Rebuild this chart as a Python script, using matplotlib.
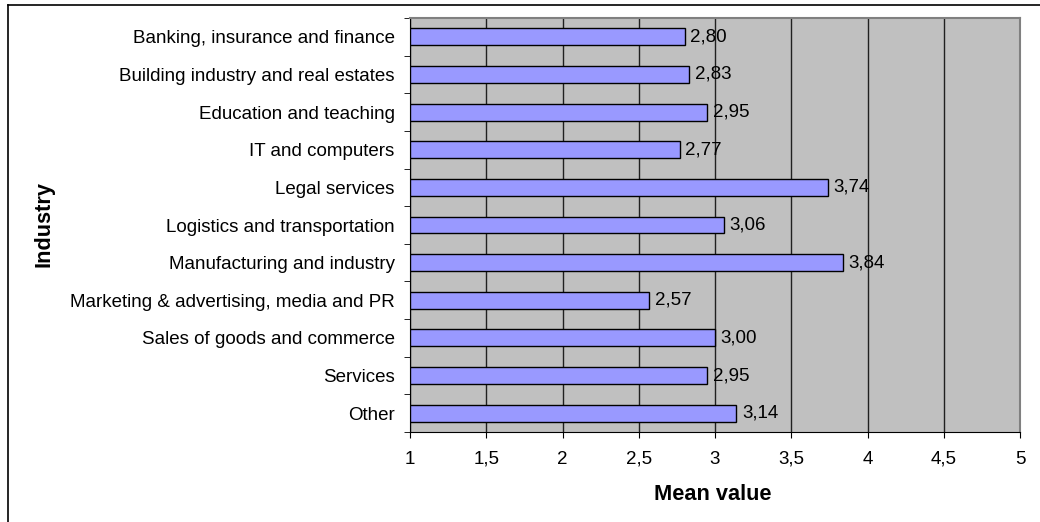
import matplotlib.pyplot as plt
import numpy as np

plt.rcParams['font.family'] = ['Liberation Sans', 'DejaVu Sans']

industries = [
    'Banking, insurance and finance',
    'Building industry and real estates',
    'Education and teaching',
    'IT and computers',
    'Legal services',
    'Logistics and transportation',
    'Manufacturing and industry',
    'Marketing & advertising, media and PR',
    'Sales of goods and commerce',
    'Services',
    'Other',
]
mean_values = [2.80, 2.83, 2.95, 2.77, 3.74, 3.06, 3.84, 2.57, 3.00, 2.95, 3.14]
x_ticks = [1, 1.5, 2, 2.5, 3, 3.5, 4, 4.5, 5]

W, H = 1040, 522
fig = plt.figure(figsize=(W / 100, H / 100), dpi=100)
ax = fig.add_axes([410 / W, 1 - 432 / H, (1020 - 410) / W, (432 - 18) / H])

# frame lines on the top and left edge of the chart
fig.add_artist(plt.Line2D([8 / W, 8 / W], [0, 1 - 5 / H], transform=fig.transFigure,
                          color='black', linewidth=1.2))
fig.add_artist(plt.Line2D([8 / W, 1], [1 - 5 / H, 1 - 5 / H], transform=fig.transFigure,
                          color='black', linewidth=1.2))

ax.set_facecolor('#C0C0C0')
y = np.arange(len(industries))
ax.barh(y, [v - 1 for v in mean_values], left=1, height=0.45,
        color='#9999FF', edgecolor='black', linewidth=1.0, zorder=3)

for yi, v in zip(y, mean_values):
    ax.annotate(f'{v:.2f}'.replace('.', ','), (v, yi), xytext=(4, 0),
                textcoords='offset points', va='center', ha='left',
                fontsize=13.5, zorder=4)

ax.set_xlim(1, 5)
ax.set_ylim(len(industries) - 0.5, -0.5)
ax.set_xticks(x_ticks)
ax.set_xticklabels([f'{t:g}'.replace('.', ',') for t in x_ticks], fontsize=13.5)
ax.set_yticks(y)
ax.set_yticklabels(industries, fontsize=13.5)
ax.tick_params(axis='y', length=0, pad=11)
ax.set_yticks(np.arange(-0.5, len(industries)), minor=True)
ax.tick_params(axis='y', which='minor', length=4.5, direction='out', color='black')
ax.tick_params(axis='x', length=4.5, direction='out', color='black', pad=9)
ax.grid(axis='x', color='#202020', linewidth=1.0, zorder=1)

for side in ['top', 'right']:
    ax.spines[side].set_color('#808080')
    ax.spines[side].set_linewidth(1.5)
for side in ['left', 'bottom']:
    ax.spines[side].set_color('black')

fig.text(713 / W, 1 - 495 / H, 'Mean value', fontsize=15.7, fontweight='bold',
         ha='center', va='center')
fig.text(44 / W, 1 - 224 / H, 'Industry', rotation=90, fontsize=15.7,
         fontweight='bold', ha='center', va='center')

fig.savefig('out.png', dpi=100)
